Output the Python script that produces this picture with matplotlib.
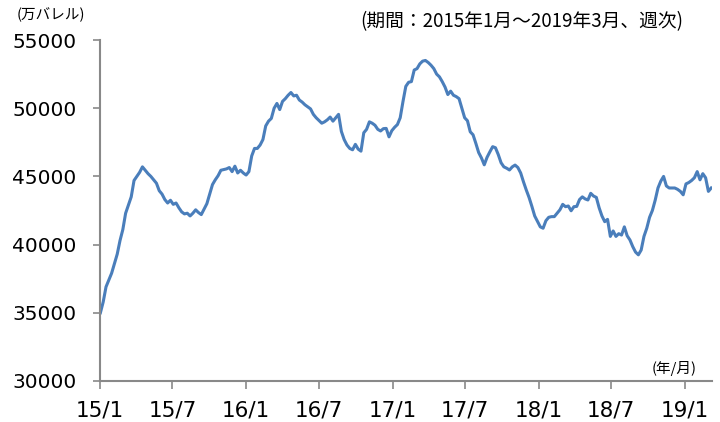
import numpy as np
import pandas as pd
import matplotlib
matplotlib.use("Agg")
import matplotlib.pyplot as plt
import matplotlib.dates as mdates

# weekly crude inventory (10k barrels), 2015/1 - 2019/3
start_date = "2015-01-02"
stocks = [
    35000, 35800, 36900, 37400, 37900, 38600, 39300, 40300, 41100, 42300,
    42900, 43500, 44700, 45000, 45300, 45700, 45450, 45200, 45000, 44750,
    44500, 43950, 43700, 43300, 43050, 43250, 42950, 43050, 42700, 42400,
    42250, 42300, 42100, 42300, 42550, 42350, 42200, 42600, 43000, 43700,
    44400, 44750, 45050, 45450, 45500, 45550, 45650, 45350, 45750, 45250,
    45450, 45250, 45100, 45350, 46500, 47050, 47050, 47300, 47700, 48700,
    49050, 49250, 50000, 50350, 49900, 50500, 50700, 50950, 51150, 50900,
    50950, 50600, 50450, 50250, 50100, 49950, 49550, 49300, 49100, 48900,
    49000, 49150, 49350, 49050, 49300, 49550, 48300, 47700, 47300, 47050,
    46950, 47350, 47000, 46850, 48200, 48450, 49000, 48900, 48750, 48450,
    48330, 48500, 48520, 47900, 48350, 48600, 48800, 49300, 50500, 51600,
    51900, 51950, 52800, 52900, 53250, 53450, 53500, 53350, 53150, 52900,
    52500, 52300, 51950, 51550, 51000, 51250, 50950, 50850, 50700, 50000,
    49300, 49080, 48270, 48050, 47420, 46750, 46350, 45850, 46400, 46800,
    47180, 47100, 46600, 46000, 45700, 45600, 45470, 45700, 45830, 45650,
    45250, 44600, 44000, 43450, 42800, 42100, 41700, 41300, 41200, 41750,
    42000, 42050, 42050, 42300, 42550, 42950, 42780, 42830, 42480, 42780,
    42800, 43300, 43500, 43350, 43270, 43760, 43560, 43460, 42700, 42100,
    41680, 41850, 40600, 41000, 40600, 40800, 40700, 41300, 40650, 40340,
    39850, 39450, 39250, 39600, 40600, 41200, 42000, 42500, 43250, 44150,
    44650, 45000, 44300, 44150, 44150, 44150, 44050, 43900, 43650, 44450,
    44550, 44700, 44900, 45350, 44750, 45200, 44900, 43900, 44150,
]
tick_dates = ["2015-01-01", "2015-07-01", "2016-01-01", "2016-07-01", "2017-01-01",
              "2017-07-01", "2018-01-01", "2018-07-01", "2019-01-01"]
tick_labels = ["15/1", "15/7", "16/1", "16/7", "17/1", "17/7", "18/1", "18/7", "19/1"]
y_ticks = [30000, 35000, 40000, 45000, 50000, 55000]

dates = pd.date_range(start_date, periods=len(stocks), freq="7D")

fig = plt.figure(figsize=(7.2, 4.22), dpi=100)
ax = fig.add_axes([0.1389, 0.0972, 0.8500, 0.8080])

ax.plot(dates, stocks, color="#4a7ebb", linewidth=2.2, solid_joinstyle="round")

ax.set_ylim(30000, 55000)
ax.set_xlim(pd.Timestamp("2015-01-01"), dates[-1] + pd.Timedelta(days=2))
ax.set_yticks(y_ticks)
ax.set_yticklabels([str(v) for v in y_ticks], fontsize=14.5)
ax.set_xticks(pd.to_datetime(tick_dates))
ax.set_xticklabels(tick_labels, fontsize=15.5)

for side in ["top", "right"]:
    ax.spines[side].set_visible(False)
for side in ["left", "bottom"]:
    ax.spines[side].set_color("#898989")
    ax.spines[side].set_linewidth(1.5)
ax.tick_params(axis="y", direction="out", length=5, width=1.2, color="#898989", pad=12)
ax.tick_params(axis="x", direction="out", length=6, width=1.2, color="#898989", pad=8)

jp = ["Noto Sans CJK JP", "DejaVu Sans"]
fig.text(17 / 720, 1 - 15 / 422, "(万バレル)", fontsize=10.5, family=jp, va="center", ha="left")
fig.text(683 / 720, 1 - 22 / 422, "(期間：2015年1月～2019年3月、週次)", fontsize=13.5,
         family=jp, va="center", ha="right")
fig.text(697 / 720, 1 - 368 / 422, "(年/月)", fontsize=10.5, family=jp, va="center", ha="right")

fig.savefig("out.png", dpi=100)
